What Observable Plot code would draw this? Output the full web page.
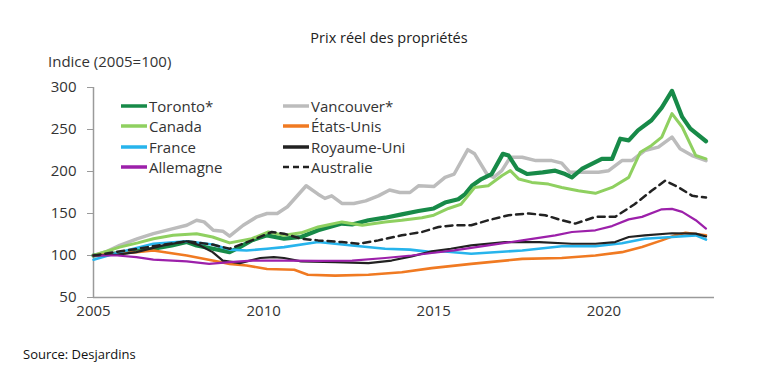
<!DOCTYPE html>
<html><head><meta charset="utf-8">
<script src="https://cdn.jsdelivr.net/npm/d3@7"></script>
<script src="https://cdn.jsdelivr.net/npm/@observablehq/plot@0.6"></script>
<style>
body{margin:0;background:#fff;font-family:"Open Sans",sans-serif;}
#wrap{position:relative;width:778px;height:391px;overflow:hidden;}
#title{position:absolute;left:0;width:778px;top:28px;text-align:center;font-size:14.5px;color:#222;}
#ylab{position:absolute;left:48px;top:51px;font-size:15px;color:#333;}
#source{position:absolute;left:23px;top:345px;font-size:13px;color:#111;}
#chart{position:absolute;left:0;top:70px;}
#legend{position:absolute;left:0;top:0;}
.li{position:absolute;font-size:15px;color:#333;display:flex;align-items:center;height:20px;line-height:20px;white-space:nowrap;}
.li svg{margin-right:1px;}
</style></head><body>
<div id="wrap">
  <div id="title">Prix réel des propriétés</div>
  <div id="ylab">Indice (2005=100)</div>
  <div id="chart"></div>
  <div id="legend"></div>
  <div id="source">Source: Desjardins</div>
</div>
<script>
// [année, indice]
const toronto = [[2005.0,100],[2005.8,103],[2006.76,108],[2007.3,112],[2007.74,116],[2008.03,112],[2008.4,109],[2009.0,104],[2009.3,110],[2009.65,118],[2010.1,124],[2010.6,120],[2011.1,122],[2011.6,130],[2012.3,138],[2012.6,137],[2013.08,142],[2013.57,145],[2014.06,149],[2014.55,153],[2015.0,156],[2015.33,163],[2015.72,167],[2015.92,173],[2016.12,183],[2016.4,191],[2016.7,197],[2017.03,221],[2017.2,219],[2017.45,203],[2017.75,197],[2018.2,199],[2018.57,201],[2018.86,197],[2019.06,193],[2019.35,203],[2019.94,215],[2020.24,215],[2020.48,239],[2020.73,237],[2021.0,249],[2021.4,261],[2021.7,276],[2022.0,296],[2022.3,265],[2022.54,251],[2023.0,236]];
const vancouver = [[2005.0,100],[2005.4,105],[2005.77,112],[2006.3,120],[2006.76,126],[2007.34,132],[2007.74,136],[2008.03,142],[2008.25,140],[2008.52,130],[2008.8,129],[2009.0,123],[2009.4,136],[2009.8,146],[2010.1,150],[2010.4,150],[2010.7,158],[2011.25,183],[2011.6,173],[2011.8,168],[2012.0,171],[2012.3,162],[2012.65,162],[2013.0,165],[2013.37,171],[2013.7,178],[2014.0,175],[2014.3,175],[2014.55,183],[2015.0,182],[2015.33,193],[2015.6,197],[2016.0,226],[2016.2,221],[2016.56,197],[2016.76,193],[2017.0,201],[2017.25,217],[2017.6,217],[2018.0,213],[2018.47,213],[2018.76,210],[2019.0,199],[2019.45,199],[2019.84,199],[2020.14,201],[2020.53,213],[2020.82,213],[2021.2,225],[2021.6,229],[2022.0,241],[2022.24,227],[2022.59,219],[2023.0,213]];
const canada = [[2005.0,100],[2005.77,110],[2006.3,115],[2006.76,120],[2007.34,124],[2008.03,126],[2008.5,122],[2009.0,115],[2009.65,120],[2010.14,128],[2010.6,124],[2011.1,127],[2011.6,134],[2012.3,140],[2012.9,136],[2013.57,140],[2014.06,142],[2014.65,145],[2015.0,148],[2015.43,156],[2015.8,161],[2016.2,181],[2016.6,183],[2017.0,195],[2017.25,201],[2017.5,191],[2017.88,187],[2018.37,185],[2018.76,181],[2019.25,177],[2019.75,174],[2020.24,181],[2020.73,193],[2021.07,223],[2021.4,231],[2021.7,241],[2022.0,269],[2022.3,253],[2022.7,219],[2023.0,215]];
const etatsUnis = [[2005.0,100],[2006.26,104],[2006.76,106],[2007.74,100],[2008.5,94],[2009.0,90],[2009.5,88],[2010.1,84],[2010.9,83],[2011.3,77],[2012.1,76],[2013.08,77],[2014.06,80],[2014.94,85],[2016.1,90],[2017.6,96],[2018.76,97],[2019.75,100],[2020.53,104],[2021.12,110],[2021.7,118],[2022.1,124],[2022.4,127],[2023.0,124]];
const france = [[2005.0,95],[2005.77,104],[2006.76,114],[2007.74,117],[2008.5,113],[2009.0,107],[2009.5,106],[2010.1,108],[2010.6,110],[2011.6,116],[2012.6,112],[2013.57,108],[2014.3,107],[2014.94,104],[2015.24,105],[2016.1,102],[2017.6,106],[2018.76,111],[2019.75,111],[2020.53,114.6],[2021.2,120],[2022.0,122],[2022.7,124],[2023.0,119]];
const royaumeUni = [[2005.0,100],[2005.7,101],[2006.26,104],[2007.05,112],[2007.74,117],[2008.13,112],[2008.5,104],[2008.8,94],[2009.3,91],[2009.9,97],[2010.3,98],[2010.6,97],[2011.1,93],[2012.1,92],[2013.08,91],[2013.76,94],[2014.35,99],[2014.94,105],[2015.5,108],[2016.1,112],[2017.1,116],[2018.1,116],[2019.06,114],[2019.75,114],[2020.33,116],[2020.73,122],[2021.2,124],[2022.0,126.5],[2022.7,126],[2023.0,122.6]];
const allemagne = [[2005.0,100],[2005.7,100],[2006.26,98],[2006.76,95],[2007.74,93],[2008.4,90],[2009.0,92],[2009.65,94],[2010.6,94],[2011.6,93.5],[2012.6,94],[2013.57,97],[2014.35,100],[2014.94,103],[2015.6,106],[2016.6,112],[2017.6,118],[2018.57,124],[2019.06,128],[2019.75,130],[2020.24,135],[2020.73,143],[2021.12,146],[2021.7,155],[2022.0,155.5],[2022.3,152],[2022.7,142],[2023.0,132]];
const australie = [[2005.0,100],[2005.8,105],[2006.76,111],[2007.74,117],[2008.5,113],[2009.0,108],[2009.65,118],[2010.24,128],[2010.6,126],[2011.1,120],[2011.6,118],[2012.3,116],[2012.8,114],[2013.37,118],[2014.06,124],[2014.65,128],[2015.14,134],[2015.6,136],[2016.1,136],[2016.6,142],[2017.2,148],[2017.8,150],[2018.27,148],[2018.76,142],[2019.16,138],[2019.75,146],[2020.33,146],[2020.9,161],[2021.4,177],[2021.8,189],[2022.2,181],[2022.6,171],[2023.0,169]];

const xTicks = [2005, 2010, 2015, 2020];
const yTicks = [50, 100, 150, 200, 250, 300];

const series = [
  {name:"Vancouver*", data:vancouver, color:"#bcbcbc", w:3.5, dash:null},
  {name:"Toronto*", data:toronto, color:"#178a48", w:4.2, dash:null},
  {name:"Canada", data:canada, color:"#8fd060", w:3, dash:null},
  {name:"États-Unis", data:etatsUnis, color:"#f07a22", w:2.6, dash:null},
  {name:"France", data:france, color:"#27b4ec", w:2.6, dash:null},
  {name:"Royaume-Uni", data:royaumeUni, color:"#222222", w:2.2, dash:null},
  {name:"Allemagne", data:allemagne, color:"#9c20aa", w:2.2, dash:null},
  {name:"Australie", data:australie, color:"#222222", w:2.5, dash:"7,5"}
];

const plot = Plot.plot({
  width: 778, height: 260,
  marginLeft: 93, marginRight: 64, marginTop: 17, marginBottom: 33,
  style: {fontFamily: "Open Sans", fontSize: "15px", background: "transparent"},
  x: {domain: [2005, 2023.25]},
  y: {domain: [50, 300]},
  marks: [
    Plot.axisY({ticks: yTicks, tickSize: 6, tickPadding: 11, stroke: "#9a9a9a", fill: "#333", label: null, fontSize: 15}),
    Plot.axisX({ticks: xTicks, tickFormat: d => String(d), tickSize: 0, tickPadding: 8, fill: "#333", label: null, fontSize: 15}),
    Plot.ruleX([2005], {y1: 50, y2: 300, stroke: "#9a9a9a", strokeWidth: 1.5}),
    Plot.ruleY([50], {stroke: "#9a9a9a", strokeWidth: 1.5}),
    ...series.map(s => Plot.line(s.data, {x: d => d[0], y: d => d[1], stroke: s.color, strokeWidth: s.w, strokeDasharray: s.dash, strokeLinejoin: "round"}))
  ]
});
document.getElementById("chart").appendChild(plot);

// légende
const legendOrder = [["Toronto*","Vancouver*"],["Canada","États-Unis"],["France","Royaume-Uni"],["Allemagne","Australie"]];
const leg = document.getElementById("legend");
const colX = [120, 282];
legendOrder.forEach((row, i) => {
  row.forEach((nm, j) => {
    const s = series.find(t => t.name === nm);
    const div = document.createElement("div");
    div.className = "li";
    div.style.left = colX[j] + "px";
    div.style.top = (96 + i * 20.3) + "px";
    const sw = `<svg width="28" height="8"><line x1="1" y1="4" x2="27" y2="4" stroke="${s.color}" stroke-width="${s.dash ? 2.5 : 3.5}" ${s.dash ? 'stroke-dasharray="6,4"' : ''}/></svg>`;
    div.innerHTML = sw + "<span>" + nm + "</span>";
    leg.appendChild(div);
  });
});
</script>
</body></html>
